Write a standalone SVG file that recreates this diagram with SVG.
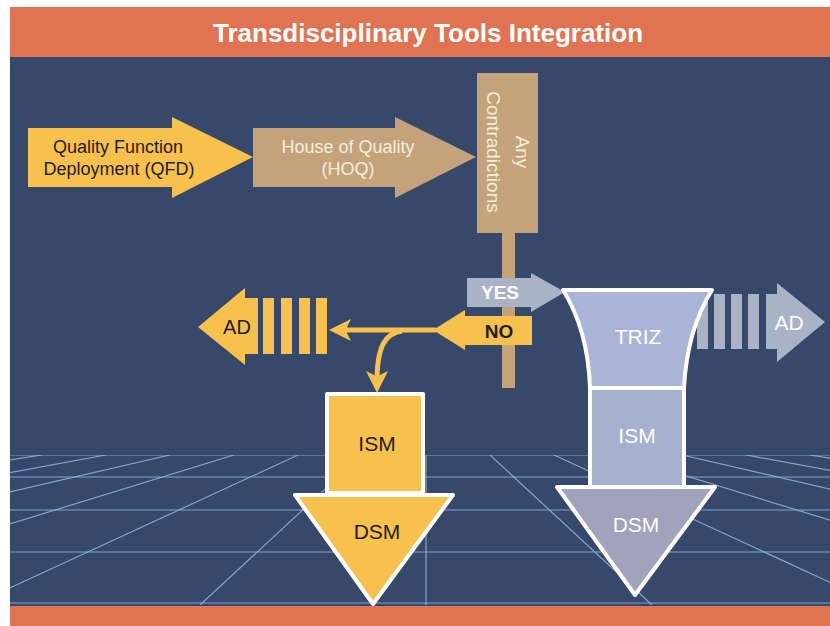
<svg xmlns="http://www.w3.org/2000/svg" width="830" height="626" viewBox="0 0 830 626">
  <defs>
    <style>
      .t { font-family: "Liberation Sans", Arial, sans-serif; text-anchor: middle; }
      .grid { stroke: #8fb4de; stroke-width: 1.2; stroke-opacity: 0.85; fill: none; }
      .yel { fill: #f8c04d; }
      .tan { fill: #c4a37b; }
      .gry { fill: #aab2c6; }
      .wb { stroke: #ffffff; stroke-width: 4; stroke-linejoin: round; }
      .dark { fill: #1e1e1e; }
      .lite { fill: #ffffff; }
      .cream { fill: #f4eedc; }
    </style>
    <clipPath id="gridclip">
      <rect x="10" y="455" width="820" height="150"/>
    </clipPath>
    <marker id="yhead" viewBox="0 0 10 10" refX="5" refY="5" markerWidth="4.4" markerHeight="4.4" orient="auto">
      <path d="M0,0 L10,5 L0,10 L2.5,5 Z" fill="#f8c04d"/>
    </marker>
  </defs>

  <!-- background -->
  <rect x="0" y="0" width="830" height="626" fill="#ffffff"/>
  <rect x="10" y="7" width="820" height="619" fill="#37496a"/>
  <rect x="10" y="7" width="820" height="50" fill="#e07352"/>
  <rect x="10" y="606" width="820" height="20" fill="#e07352"/>
  <text class="t" x="428" y="42" font-size="26" font-weight="bold" fill="#ffffff">Transdisciplinary Tools Integration</text>

  <!-- perspective floor grid -->
  <g id="grid" class="grid" clip-path="url(#gridclip)">
    <line x1="10" y1="455" x2="830" y2="455"/>
    <line x1="10" y1="477" x2="830" y2="477"/>
    <line x1="10" y1="510" x2="830" y2="510"/>
    <line x1="10" y1="552" x2="830" y2="552"/>
    <line x1="10" y1="603" x2="830" y2="603"/>
    <line x1="426" y1="455" x2="426" y2="605"/>
    <line x1="362" y1="455" x2="200" y2="605"/>
    <line x1="298" y1="455" x2="-27" y2="605"/>
    <line x1="234" y1="455" x2="-254" y2="605"/>
    <line x1="170" y1="455" x2="-481" y2="605"/>
    <line x1="106" y1="455" x2="-708" y2="605"/>
    <line x1="42" y1="455" x2="-935" y2="605"/>
    <line x1="-22" y1="455" x2="-1162" y2="605"/>
    <line x1="490" y1="455" x2="652" y2="605"/>
    <line x1="554" y1="455" x2="879" y2="605"/>
    <line x1="618" y1="455" x2="1106" y2="605"/>
    <line x1="682" y1="455" x2="1333" y2="605"/>
    <line x1="746" y1="455" x2="1560" y2="605"/>
    <line x1="810" y1="455" x2="1787" y2="605"/>
    <line x1="874" y1="455" x2="2014" y2="605"/>
  </g>

  <!-- QFD -->
  <g id="qfd">
    <polygon class="yel" points="28,128 172,128 172,117 253,157 172,198 172,187 28,187"/>
    <text class="t dark" x="118" y="153" font-size="18">Quality Function</text>
    <text class="t dark" x="119" y="175" font-size="18">Deployment (QFD)</text>
  </g>

  <!-- HOQ -->
  <g id="hoq">
    <polygon class="tan" points="253,128 395,128 395,117 476,157 395,198 395,187 253,187"/>
    <text class="t cream" x="348" y="153" font-size="18">House of Quality</text>
    <text class="t cream" x="348" y="175" font-size="18">(HOQ)</text>
  </g>

  <!-- Any Contradictions -->
  <g id="contradictions">
    <rect class="tan" x="502" y="230" width="13" height="158"/>
    <rect class="tan" x="477" y="73" width="61" height="160"/>
    <g transform="rotate(90 507.5 152)">
      <text class="t cream" x="507.5" y="144" font-size="19">Any</text>
      <text class="t cream" x="507.5" y="173" font-size="19">Contradictions</text>
    </g>
  </g>

  <!-- right AD (behind TRIZ) -->
  <g id="ad-right">
    <rect class="gry" x="697" y="294" width="11" height="55"/>
    <rect class="gry" x="714" y="294" width="11" height="55"/>
    <rect class="gry" x="731" y="294" width="11" height="55"/>
    <rect class="gry" x="748" y="294" width="11" height="55"/>
    <polygon class="gry" points="766,294 777,294 777,283 825,322 777,362 777,349 766,349"/>
    <text class="t lite" x="789" y="330" font-size="21">AD</text>
  </g>

  <!-- YES -->
  <g id="yes">
    <polygon class="gry" points="467,278 531,278 531,273 565,292 531,312 531,307 467,307"/>
    <text class="t lite" x="500" y="299" font-size="19" font-weight="bold">YES</text>
  </g>

  <!-- NO -->
  <g id="no">
    <polygon class="yel" points="532,316 465,316 465,310 433,330 465,350 465,345 532,345"/>
    <text class="t dark" x="499" y="338" font-size="19" font-weight="bold">NO</text>
  </g>

  <!-- left AD -->
  <g id="ad-left">
    <polygon class="yel" points="198,327 245,288 245,298 258,298 258,354 245,354 245,365"/>
    <rect class="yel" x="263" y="298" width="11" height="56"/>
    <rect class="yel" x="281" y="298" width="11" height="56"/>
    <rect class="yel" x="299" y="298" width="11" height="56"/>
    <rect class="yel" x="316" y="298" width="11" height="56"/>
    <text class="t dark" x="237" y="334" font-size="20">AD</text>
  </g>

  <!-- right stack: TRIZ / ISM / DSM -->
  <g id="triz">
    <path class="wb" fill="#a9b4d6" d="M563,290 L712,290 Q687,330 684,388 L590,388 Q588,330 563,290 Z"/>
    <text class="t lite" x="638" y="344" font-size="21">TRIZ</text>
  </g>
  <g id="ism-right">
    <rect class="wb" fill="#a6b0cf" x="590" y="388" width="94" height="99"/>
    <text class="t lite" x="637" y="443" font-size="21">ISM</text>
  </g>
  <g id="dsm-right">
    <polygon class="wb" fill="#9fa4bc" points="557,487 715,487 635,595"/>
    <text class="t lite" x="636" y="532" font-size="21">DSM</text>
  </g>

  <!-- left stack: ISM / DSM -->
  <g id="ism-left">
    <rect class="wb yel" x="327" y="394" width="96" height="99"/>
    <text class="t dark" x="377" y="451" font-size="21">ISM</text>
  </g>
  <g id="dsm-left">
    <polygon class="wb yel" points="295,495 453,495 373,604"/>
    <text class="t dark" x="377" y="539" font-size="21">DSM</text>
  </g>

  <!-- connectors -->
  <g id="connectors" fill="none" stroke="#f8c04d" stroke-width="5">
    <path d="M436,330 L340,330" marker-end="url(#yhead)"/>
    <path d="M402,331 C386,333 377,345 377,382" marker-end="url(#yhead)"/>
  </g>
</svg>
